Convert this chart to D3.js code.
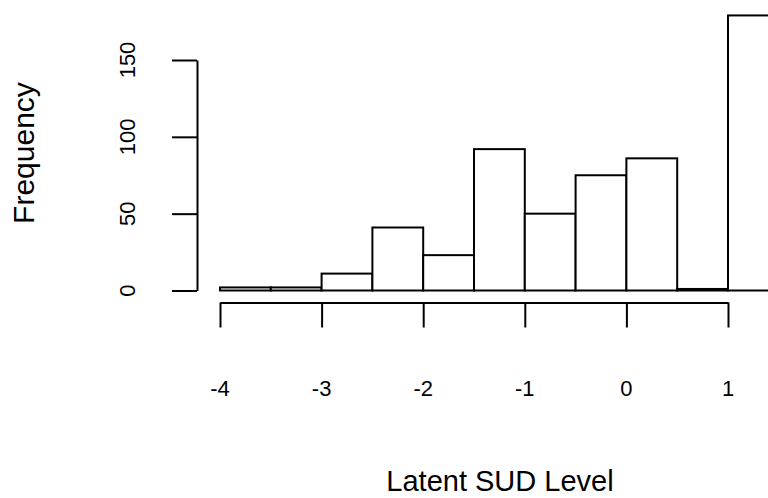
<!DOCTYPE html>
<html>
<head>
<meta charset="utf-8">
<script src="https://cdn.jsdelivr.net/npm/d3@7"></script>
<style>
  html, body { margin: 0; padding: 0; background: #fff; overflow: hidden; }
  svg { display: block; font-family: "Liberation Sans", Arial, Helvetica, sans-serif; }
  .bar { fill: #fff; stroke: #000; stroke-width: 2px; }
  .axis path, .axis line { stroke: #000; stroke-width: 2px; }
</style>
</head>
<body>
<div id="chart"></div>
<script>
// histogram bins (width 0.5) and counts
const breaks = [-4, -3.5, -3, -2.5, -2, -1.5, -1, -0.5, 0, 0.5, 1, 1.5];
const counts = [2, 2, 11, 41, 23, 92, 50, 75, 86, 1, 179];
const xTicks = [-4, -3, -2, -1, 0, 1];
const yTicks = [0, 50, 100, 150];

const width = 768, height = 498;

const svg = d3.select("#chart")
  .append("svg")
  .attr("width", width)
  .attr("height", height);

const x = d3.scaleLinear().domain([-4, 1]).range([220, 728]);
const y = d3.scaleLinear().domain([0, 150]).range([290.5, 60]);

const bins = counts.map((c, i) => ({ x0: breaks[i], x1: breaks[i + 1], n: c }));

svg.selectAll(".bar")
  .data(bins)
  .enter()
  .append("rect")
  .attr("class", "bar")
  .attr("x", d => x(d.x0))
  .attr("width", d => x(d.x1) - x(d.x0))
  .attr("y", d => y(d.n))
  .attr("height", d => y(0) - y(d.n));

// x axis, offset below the bars like R's hist
const xAxis = svg.append("g")
  .attr("class", "axis")
  .attr("transform", "translate(0,302.5)")
  .call(d3.axisBottom(x).tickValues(xTicks).tickSize(25).tickSizeOuter(0).tickFormat(d3.format("d")));
xAxis.selectAll("text").remove();

svg.selectAll(".xlab")
  .data(xTicks)
  .enter()
  .append("text")
  .attr("class", "xlab")
  .attr("x", d => x(d))
  .attr("y", 396)
  .attr("text-anchor", "middle")
  .style("font-size", "22px")
  .text(d => d);

const yAxis = svg.append("g")
  .attr("class", "axis")
  .attr("transform", "translate(197,0)")
  .call(d3.axisLeft(y).tickValues(yTicks).tickSize(25).tickSizeOuter(0));
yAxis.selectAll("text").remove();

svg.selectAll(".ylab")
  .data(yTicks)
  .enter()
  .append("text")
  .attr("class", "ylab")
  .attr("transform", d => `translate(135,${y(d)}) rotate(-90)`)
  .attr("text-anchor", "middle")
  .style("font-size", "22px")
  .text(d => d);

svg.append("text")
  .attr("x", 500)
  .attr("y", 491)
  .attr("text-anchor", "middle")
  .style("font-size", "29px")
  .text("Latent SUD Level");

svg.append("text")
  .attr("transform", "translate(34,153) rotate(-90)")
  .attr("text-anchor", "middle")
  .style("font-size", "30px")
  .text("Frequency");
</script>
</body>
</html>
